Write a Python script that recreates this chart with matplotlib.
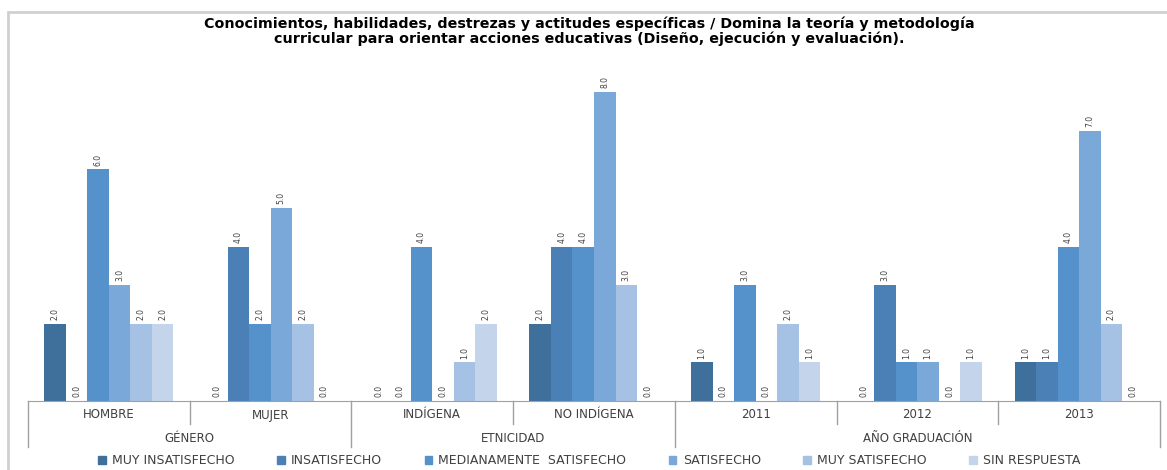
import matplotlib
matplotlib.use('Agg')
import matplotlib.pyplot as plt
import matplotlib.transforms as mtransforms
from matplotlib.patches import Rectangle
import numpy as np

categories = ['HOMBRE', 'MUJER', 'INDÍGENA', 'NO INDÍGENA', '2011', '2012', '2013']
groups = ['GÉNERO', 'ETNICIDAD', 'AÑO GRADUACIÓN']
group_spans = [(0, 2), (2, 4), (4, 7)]
series = ['MUY INSATISFECHO', 'INSATISFECHO', 'MEDIANAMENTE  SATISFECHO',
          'SATISFECHO', 'MUY SATISFECHO', 'SIN RESPUESTA']
muy_insatisfecho = [2, 0, 0, 2, 1, 0, 1]
insatisfecho = [0, 4, 0, 4, 0, 3, 1]
medianamente = [6, 2, 4, 4, 3, 1, 4]
satisfecho = [3, 5, 0, 8, 0, 1, 7]
muy_satisfecho = [2, 2, 1, 3, 2, 0, 2]
sin_respuesta = [2, 0, 2, 0, 1, 1, 0]
values = [muy_insatisfecho, insatisfecho, medianamente, satisfecho, muy_satisfecho, sin_respuesta]
colors = ['#3f6f9b', '#4a80b6', '#5592cb', '#7aa8d9', '#a5c1e3', '#c4d5eb']

fig = plt.figure(figsize=(11.67, 4.70), dpi=100)
# outer frame
fig.patches.append(Rectangle((8 / 1167, -0.01), 1.02, 1 - 12 / 470 + 0.01, transform=fig.transFigure,
                             fill=False, edgecolor='#d0d0d0', linewidth=2))
ax = fig.add_axes([28 / 1167, 1 - 401 / 470, (1160 - 28) / 1167, (401 - 53.6) / 470])

x = np.arange(len(categories))
w = 0.133
for i, (vals, c) in enumerate(zip(values, colors)):
    pos = x + (i - 2.5) * w
    ax.bar(pos, vals, width=w, color=c, edgecolor='none')
    for p, v in zip(pos, vals):
        ax.text(p, v + 0.1, f'{v:.1f}', rotation=90, ha='center', va='bottom',
                fontsize=5.5, color='#404040')

ax.set_xlim(-0.5, len(categories) - 0.5)
ax.set_ylim(0, 9)
ax.set_xticks([])
ax.set_yticks([])
for s in ['top', 'right', 'left']:
    ax.spines[s].set_visible(False)
ax.spines['bottom'].set_color('#a0a0a0')

# category table under the axis
tr = mtransforms.blended_transform_factory(ax.transData, ax.transAxes)
h = 347.4
row1 = -23 / h
row2 = -46 / h
for k, name in enumerate(categories):
    ax.text(k, -14 / h, name, transform=tr, ha='center', va='center',
            fontsize=8.5, color='#404040')
group_edges = [s for s, e in group_spans] + [len(categories)]
for b in range(len(categories) + 1):
    bottom = row2 if b in group_edges else row1
    ax.plot([b - 0.5, b - 0.5], [0, bottom], transform=tr, color='#a0a0a0',
            linewidth=1, clip_on=False)
for g, (s, e) in zip(groups, group_spans):
    ax.text((s + e - 1) / 2, -37 / h, g, transform=tr, ha='center', va='center',
            fontsize=8.5, color='#404040')

fig.text(0.505, 1 - 31 / 470, 'Conocimientos, habilidades, destrezas y actitudes específicas / Domina la teoría y metodología\n'
         'curricular para orientar acciones educativas (Diseño, ejecución y evaluación).',
         ha='center', va='center', fontsize=10.3, fontweight='bold', linespacing=1.05)

handles = [Rectangle((0, 0), 1, 1, color=c) for c in colors]
fig.legend(handles, series, loc='center', bbox_to_anchor=(0.505, 1 - 461 / 470), ncol=6,
           frameon=False, fontsize=9, handlelength=0.6, handleheight=0.6,
           columnspacing=3.4, handletextpad=0.5, labelcolor='#404040')

fig.savefig('out.png', dpi=100)
